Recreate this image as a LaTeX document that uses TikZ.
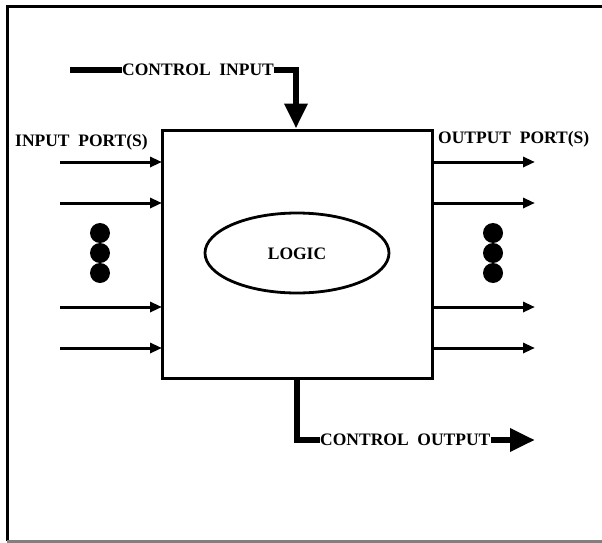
\documentclass[tikz,border=0pt]{standalone}
\usepackage{fontspec}
\setmainfont{Liberation Serif}
\usetikzlibrary{arrows.meta,shapes.geometric,calc}
\begin{document}
\begin{tikzpicture}[x=1pt,y=-1pt,
  lbl/.style={font=\fontsize{17.5}{19}\selectfont\bfseries, inner sep=0pt},
  port/.style={line width=3pt,-{Triangle[length=12pt,width=10pt]}},
  ctrl/.style={line width=6.5pt},
  ctrlarrow/.style={line width=6.5pt,-{Triangle[length=25pt,width=22pt]}},
  dot/.style={circle,fill=black,minimum size=20pt,inner sep=0pt}]
\useasboundingbox (0,0) rectangle (602,543);
% frame
\draw[line width=3pt] (602,7) -- (7,7) -- (7,541);
\draw[line width=3pt,gray] (7,541) -- (602,541);
% main box
\node[draw,line width=3pt,minimum width=270pt,minimum height=248pt,inner sep=0pt] (box) at (297,254) {};
\node[ellipse,draw,line width=2.8pt,minimum width=184pt,minimum height=80pt,inner sep=0pt] (logic) at (297,253) {};
\node[lbl] (logictxt) at (297,254) {LOGIC};
% control input
\coordinate (cis) at (70,70);
\node[lbl,anchor=west] (ci) at (122,70) {CONTROL\ \ INPUT};
\coordinate (cic) at (296,70);
\draw[ctrl] (cis) -- (ci.west);
\draw[ctrlarrow] (ci.east) -- (cic) -- (cic |- box.north);
% input ports
\node[lbl,anchor=west] (inlbl) at (15,142) {INPUT\ \ PORT(S)};
\foreach \n/\y in {1/162,2/203,3/307,4/348}{
  \coordinate (in\n) at (60,\y);
  \coordinate (ib\n) at (162,\y);
  \draw[port] (in\n) -- (ib\n);
  \coordinate (ob\n) at (432,\y);
  \coordinate (out\n) at (535,\y);
  \draw[port] (ob\n) -- (out\n);
}
\node[lbl,anchor=west] (outlbl) at (438,139) {OUTPUT\ \ PORT(S)};
% dots
\foreach \n/\y in {1/233,2/253,3/273}{
  \node[dot] (ld\n) at (100,\y) {};
  \node[dot] (rd\n) at (493,\y) {};
}
% control output
\coordinate (cob) at (297,440);
\node[lbl,anchor=west] (co) at (320,440) {CONTROL\ \ OUTPUT};
\coordinate (coe) at (535,440);
\draw[ctrl] (box.south) -- (cob) -- (co.west);
\draw[ctrlarrow] (co.east) -- (coe);
\end{tikzpicture}
\end{document}
